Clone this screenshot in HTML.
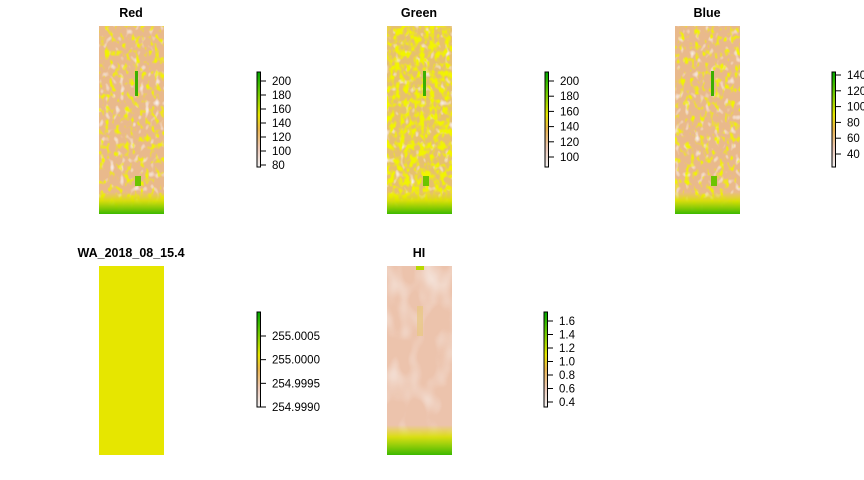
<!DOCTYPE html>
<html><head><meta charset="utf-8"><style>
html,body{margin:0;padding:0;background:#fff;}
svg{display:block;font-family:"Liberation Sans",sans-serif;}
</style></head><body>
<svg id="c" width="864" height="480" viewBox="0 0 864 480">
<defs>
<linearGradient id="terr" x1="0" y1="1" x2="0" y2="0">
<stop offset="0" stop-color="#F2F2F2"/><stop offset="0.2" stop-color="#EEC9B7"/><stop offset="0.4" stop-color="#EAB64E"/><stop offset="0.55" stop-color="#E6E600"/><stop offset="0.8" stop-color="#63C600"/><stop offset="1" stop-color="#00A600"/>
</linearGradient>
<linearGradient id="bot" x1="0" y1="0" x2="0" y2="1">
<stop offset="0" stop-color="#E6E600" stop-opacity="0"/><stop offset="0.4" stop-color="#D6E000" stop-opacity="0.9"/><stop offset="1" stop-color="#3CB800"/>
</linearGradient>
<filter id="mottY" x="0" y="0" width="1" height="1">
<feTurbulence type="fractalNoise" baseFrequency="0.2 0.14" numOctaves="2" seed="3" result="n"/>
<feColorMatrix in="n" type="matrix" values="0 0 0 0 0.88  0 0 0 0 0.90  0 0 0 0 0  4 0 0 0 -2.1" result="y"/>
<feComposite in="y" in2="SourceGraphic" operator="in"/>
</filter>
<filter id="mottG" x="0" y="0" width="1" height="1">
<feTurbulence type="fractalNoise" baseFrequency="0.2 0.14" numOctaves="2" seed="5" result="n"/>
<feColorMatrix in="n" type="matrix" values="0 0 0 0 0.88  0 0 0 0 0.90  0 0 0 0 0  4 0 0 0 -1.7" result="y"/>
<feComposite in="y" in2="SourceGraphic" operator="in"/>
</filter>
<filter id="mottP" x="0" y="0" width="1" height="1">
<feTurbulence type="fractalNoise" baseFrequency="0.2 0.14" numOctaves="1" seed="11" result="n"/>
<feColorMatrix in="n" type="matrix" values="0 0 0 0 0.94  0 0 0 0 0.86  0 0 0 0 0.84  4 0 0 0 -2.3" result="y"/>
<feComposite in="y" in2="SourceGraphic" operator="in"/>
</filter>
<filter id="mott2" x="0" y="0" width="1" height="1">
<feTurbulence type="fractalNoise" baseFrequency="0.05 0.03" numOctaves="2" seed="7" result="n"/>
<feColorMatrix in="n" type="matrix" values="0 0 0 0 0.95  0 0 0 0 0.92  0 0 0 0 0.91  2 0 0 0 -0.9" result="y"/>
<feComposite in="y" in2="SourceGraphic" operator="in"/>
</filter>
</defs>
<g id="panels"></g>
</svg>
<script>
const NS="http://www.w3.org/2000/svg";
const svg=document.getElementById('panels');
function el(t,a,p){const e=document.createElementNS(NS,t);for(const k in a)e.setAttribute(k,a[k]);(p||svg).appendChild(e);return e;}

// Legend tick data
const redTicks=[80,100,120,140,160,180,200];
const greenTicks=[100,120,140,160,180,200];
const blueTicks=[40,60,80,100,120,140];
const waTicks=[254.9990,254.9995,255.0000,255.0005];
const waLabels=["254.9990","254.9995","255.0000","255.0005"];
const hiTicks=[0.4,0.6,0.8,1.0,1.2,1.4,1.6];
const hiLabels=["0.4","0.6","0.8","1.0","1.2","1.4","1.6"];

const panels=[
 {name:'red',title:'Red',x:99,y:26,w:65,h:188,tx:131,kind:'rgb',bx:257,ticks:redTicks,labels:redTicks.map(String),lo:80,hi:200,ylo:165,yhi:81},
 {name:'green',title:'Green',x:387,y:26,w:65,h:188,tx:419,kind:'rgbg',bx:545,ticks:greenTicks,labels:greenTicks.map(String),lo:100,hi:200,ylo:157,yhi:81},
 {name:'blue',title:'Blue',x:675,y:26,w:65,h:188,tx:707,kind:'rgb',bx:832,ticks:blueTicks,labels:blueTicks.map(String),lo:40,hi:140,ylo:154,yhi:75},
 {name:'wa',title:'WA_2018_08_15.4',x:99,y:266,w:65,h:189,tx:131,kind:'flat',bx:257,ticks:waTicks,labels:waLabels,lo:254.9990,hi:255.0005,ylo:407,yhi:336},
 {name:'hi',title:'HI',x:387,y:266,w:65,h:189,tx:419,kind:'hi',bx:544,ticks:hiTicks,labels:hiLabels,lo:0.4,hi:1.6,ylo:402,yhi:321}
];

panels.forEach(p=>{
 const g=el('g',{});
 
 
 const t=el('text',{x:p.tx,y:p.y-9,'text-anchor':'middle','font-size':'12.5','font-weight':'bold',fill:'#000'},g);
 t.textContent=p.title;
 
 
 const r=el('g',{},g);
 
 
 if(p.kind==='flat'){
  el('rect',{x:p.x,y:p.y,width:p.w,height:p.h,fill:'#E6E600'},r);
 } else if(p.kind==='hi'){
  el('rect',{x:p.x,y:p.y,width:p.w,height:p.h,fill:'#ECC3AC'},r);
  el('rect',{x:p.x,y:p.y,width:p.w,height:p.h,fill:'#fff',filter:'url(#mott2)',opacity:0.8},r);
  el('rect',{x:p.x+30,y:p.y+40,width:6,height:30,fill:'#E8C880',opacity:0.7},r);
  el('rect',{x:p.x,y:p.h+p.y-30,width:p.w,height:30,fill:'url(#bot)'},r);
  el('rect',{x:p.x+29,y:p.y,width:8,height:4,fill:'#B8D800'},r);
 } else {
  el('rect',{x:p.x,y:p.y,width:p.w,height:p.h,fill:p.kind==='rgbg'?'#E6C070':'#E9B98C'},r);
  el('rect',{x:p.x,y:p.y,width:p.w,height:p.h,fill:'#fff',filter:'url(#mottP)'},r);
  el('rect',{x:p.x,y:p.y,width:p.w,height:p.h,fill:'#fff',filter:p.kind==='rgbg'?'url(#mottG)':'url(#mottY)'},r);
  el('rect',{x:p.x+36,y:p.y+45,width:3,height:25,fill:'#3CB000'},r);
  el('rect',{x:p.x+36,y:p.y+150,width:6,height:10,fill:'#6CC400'},r);
  el('rect',{x:p.x,y:p.y+p.h-22,width:p.w,height:22,fill:'url(#bot)'},r);
 }
 // legend
 const L=el('g',{},g);
 
 
 const by0=p.y===26?72:312, by1=p.y===26?167:407;
 el('rect',{x:p.bx,y:by0,width:3.5,height:by1-by0,fill:'url(#terr)',stroke:'#000','stroke-width':1},L);
 const sc=v=>p.ylo+(v-p.lo)/(p.hi-p.lo)*(p.yhi-p.ylo);
 p.ticks.forEach((v,i)=>{
  const yy=sc(v);
  const tk=el('line',{x1:p.bx+3.5,x2:p.bx+9,y1:yy,y2:yy,stroke:'#000','stroke-width':1},L);
  
  
  const lb=el('text',{x:p.bx+15,y:yy+4,'font-size':'11.5',fill:'#000'},L);
  lb.textContent=p.labels[i];
  
  
 });
});
</script>
</body></html>
